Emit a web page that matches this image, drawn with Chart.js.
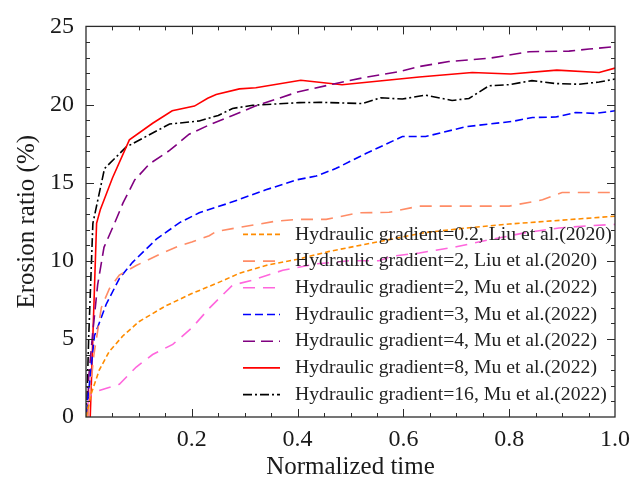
<!DOCTYPE html>
<html>
<head>
<meta charset="utf-8">
<script src="https://cdn.jsdelivr.net/npm/chart.js@4"></script>
<style>
    body { margin: 0; background: #fff; }
</style>
</head>
<body>
<canvas id="graficoErosao" width="638" height="488"></canvas>
<script>
const legendas = [
    'Hydraulic gradient=0.2, Liu et al.(2020)',
    'Hydraulic gradient=2, Liu et al.(2020)',
    'Hydraulic gradient=2, Mu et al.(2022)',
    'Hydraulic gradient=3, Mu et al.(2022)',
    'Hydraulic gradient=4, Mu et al.(2022)',
    'Hydraulic gradient=8, Mu et al.(2022)',
    'Hydraulic gradient=16, Mu et al.(2022)'
];

const tempoLiu02 = [0, 0.01, 0.025, 0.044, 0.07, 0.1, 0.15, 0.2, 0.25, 0.29, 0.34, 0.4, 0.46, 0.55, 0.64, 0.72, 0.8, 0.9, 1.0];
const erosaoLiu02 = [0, 1.5, 3.0, 4.2, 5.2, 6.1, 7.1, 7.9, 8.6, 9.2, 9.7, 10.1, 10.6, 11.2, 11.8, 12.1, 12.35, 12.6, 12.85];

const tempoLiu2 = [0.003, 0.015, 0.029, 0.044, 0.063, 0.095, 0.145, 0.177, 0.2, 0.233, 0.246, 0.284, 0.36, 0.403, 0.454, 0.516, 0.573, 0.63, 0.8, 0.863, 0.9, 1.0];
const erosaoLiu2 = [0, 4.0, 7.0, 8.2, 9.08, 9.7, 10.5, 10.96, 11.2, 11.6, 11.87, 12.1, 12.54, 12.65, 12.65, 13.07, 13.1, 13.5, 13.5, 13.9, 14.37, 14.37];

const tempoMu2 = [0.003, 0.01, 0.025, 0.063, 0.095, 0.126, 0.164, 0.2, 0.233, 0.277, 0.315, 0.372, 0.435, 0.498, 0.554, 0.58, 0.63, 0.7, 0.768, 0.831, 0.894, 0.945, 1.0];
const erosaoMu2 = [0.8, 1.5, 1.7, 2.1, 3.2, 4.0, 4.65, 5.7, 6.96, 8.44, 8.76, 9.39, 9.8, 10.0, 10.0, 10.3, 10.5, 10.9, 11.38, 11.8, 12.1, 12.23, 12.33];

const tempoMu3 = [0.001, 0.007, 0.016, 0.038, 0.063, 0.088, 0.133, 0.177, 0.214, 0.271, 0.34, 0.397, 0.435, 0.472, 0.529, 0.598, 0.642, 0.718, 0.806, 0.844, 0.888, 0.926, 0.963, 1.0];
const erosaoMu3 = [0.3, 2.3, 5.2, 7.2, 8.86, 9.9, 11.38, 12.44, 13.07, 13.7, 14.54, 15.17, 15.42, 15.9, 16.86, 17.95, 17.95, 18.58, 18.92, 19.17, 19.2, 19.49, 19.43, 19.6];

const tempoMu4 = [0.003, 0.005, 0.013, 0.022, 0.034, 0.054, 0.07, 0.092, 0.12, 0.158, 0.195, 0.23, 0.277, 0.32, 0.4, 0.466, 0.529, 0.592, 0.63, 0.686, 0.762, 0.838, 0.913, 0.951, 1.0];
const erosaoMu4 = [0, 2.5, 5.5, 8.46, 10.86, 12.4, 13.7, 15.17, 16.2, 17.06, 18.1, 18.65, 19.3, 19.9, 20.8, 21.3, 21.75, 22.1, 22.43, 22.75, 22.96, 23.38, 23.42, 23.55, 23.7];

const tempoMu8 = [0.008, 0.02, 0.027, 0.05, 0.082, 0.126, 0.163, 0.205, 0.23, 0.246, 0.29, 0.321, 0.406, 0.484, 0.63, 0.73, 0.803, 0.89, 0.97, 1.0];
const erosaoMu8 = [0, 12.4, 13.26, 15.3, 17.74, 18.8, 19.6, 19.9, 20.4, 20.64, 21.0, 21.07, 21.55, 21.27, 21.76, 22.05, 21.95, 22.2, 22.05, 22.33];

const tempoMu16 = [0.001, 0.005, 0.013, 0.035, 0.076, 0.158, 0.214, 0.25, 0.277, 0.315, 0.403, 0.441, 0.522, 0.557, 0.598, 0.642, 0.692, 0.724, 0.762, 0.8, 0.843, 0.888, 0.932, 0.97, 1.0];
const erosaoMu16 = [0, 5, 12.4, 15.9, 17.28, 18.75, 18.95, 19.3, 19.75, 19.95, 20.12, 20.14, 20.06, 20.43, 20.35, 20.6, 20.26, 20.39, 21.2, 21.27, 21.53, 21.34, 21.3, 21.44, 21.63];

const ticksX = [0.2, 0.4, 0.6, 0.8, 1.0];
const ticksY = [0, 5, 10, 15, 20, 25];

function montaPontos(tempos, valores) {
    return tempos.map((t, i) => ({ x: t, y: valores[i] }));
}

function serie(indice, tempos, valores, cor, tracejado) {
    return {
        label: legendas[indice],
        data: montaPontos(tempos, valores),
        borderColor: cor,
        borderWidth: 1.6,
        borderDash: tracejado,
        pointRadius: 0,
        tension: 0,
        fill: false
    };
}

// ticks para dentro nos quatro lados, como no original
const molduraTicks = {
    id: 'molduraTicks',
    afterDraw(grafico) {
        const { ctx, chartArea: a, scales: { x, y } } = grafico;
        ctx.save();
        ctx.strokeStyle = '#2b2b2b';
        ctx.lineWidth = 1.3;
        ctx.strokeRect(a.left, a.top, a.right - a.left, a.bottom - a.top);
        ctx.lineWidth = 1;
        ctx.beginPath();
        for (let i = 1; i < 20; i++) {
            const px = Math.round(x.getPixelForValue(i * 0.05)) + 0.5;
            const tam = i % 4 === 0 ? 8 : 4;
            ctx.moveTo(px, a.bottom); ctx.lineTo(px, a.bottom - tam);
            ctx.moveTo(px, a.top); ctx.lineTo(px, a.top + tam);
        }
        for (let i = 1; i < 25; i++) {
            const py = Math.round(y.getPixelForValue(i)) + 0.5;
            const tam = i % 5 === 0 ? 8 : 4;
            ctx.moveTo(a.left, py); ctx.lineTo(a.left + tam, py);
            ctx.moveTo(a.right, py); ctx.lineTo(a.right - tam, py);
        }
        ctx.stroke();
        ctx.restore();
    }
};

const legendaDentro = {
    id: 'legendaDentro',
    afterDraw(grafico) {
        const { ctx, chartArea: a } = grafico;
        const x0 = a.left + 157, x1 = a.left + 194, xt = a.left + 209;
        const y0 = a.top + 208, passo = 26.7;
        ctx.save();
        ctx.font = '19.7px "Liberation Serif", "Times New Roman", serif';
        ctx.textBaseline = 'middle';
        grafico.data.datasets.forEach((ds, i) => {
            const yy = y0 + i * passo;
            ctx.strokeStyle = ds.borderColor;
            ctx.lineWidth = ds.borderWidth;
            ctx.setLineDash(ds.borderDash || []);
            ctx.beginPath();
            ctx.moveTo(x0, yy);
            ctx.lineTo(x1, yy);
            ctx.stroke();
            ctx.setLineDash([]);
            ctx.fillStyle = '#222';
            ctx.fillText(ds.label, xt, yy);
        });
        ctx.restore();
    }
};

const fonteEixo = { family: '"Liberation Serif", "Times New Roman", serif', size: 24 };

const graficoErosao = document.getElementById('graficoErosao');
const grafico = new Chart(graficoErosao, {
    type: 'line',
    data: {
        datasets: [
            serie(0, tempoLiu02, erosaoLiu02, '#ff8c00', [5, 3]),
            serie(1, tempoLiu2, erosaoLiu2, '#ff8c66', [12, 8]),
            serie(2, tempoMu2, erosaoMu2, '#ff66dd', [12, 8]),
            serie(3, tempoMu3, erosaoMu3, '#0000ff', [8, 4]),
            serie(4, tempoMu4, erosaoMu4, '#800080', [12, 6]),
            serie(5, tempoMu8, erosaoMu8, '#ff0000', []),
            serie(6, tempoMu16, erosaoMu16, '#000000', [9, 3, 2, 3])
        ]
    },
    options: {
        responsive: false,
        animation: false,
        layout: { padding: { top: 21, right: 22, left: 0, bottom: 0 } },
        scales: {
            x: {
                type: 'linear',
                min: 0,
                max: 1,
                afterBuildTicks: s => { s.ticks = ticksX.map(v => ({ value: v })); },
                afterFit: s => { s.height = 71; },
                grid: { display: false, drawTicks: false },
                border: { display: false },
                ticks: {
                    padding: 8,
                    color: '#1a1a1a',
                    font: fonteEixo,
                    maxRotation: 0,
                    callback: v => v.toFixed(1)
                },
                title: {
                    display: true,
                    text: 'Normalized time',
                    color: '#1a1a1a',
                    font: { family: fonteEixo.family, size: 25 },
                    padding: { top: 0, bottom: 6 }
                }
            },
            y: {
                min: 0,
                max: 25,
                afterBuildTicks: s => { s.ticks = ticksY.map(v => ({ value: v })); },
                afterFit: s => { s.width = 86; },
                grid: { display: false, drawTicks: false },
                border: { display: false },
                ticks: {
                    padding: 12,
                    color: '#1a1a1a',
                    font: fonteEixo
                },
                title: {
                    display: true,
                    text: 'Erosion ratio (%)',
                    color: '#1a1a1a',
                    font: { family: fonteEixo.family, size: 25 },
                    padding: { top: 12, bottom: 0 }
                }
            }
        },
        plugins: {
            legend: { display: false },
            tooltip: { enabled: false }
        }
    },
    plugins: [molduraTicks, legendaDentro]
});
</script>
</body>
</html>
